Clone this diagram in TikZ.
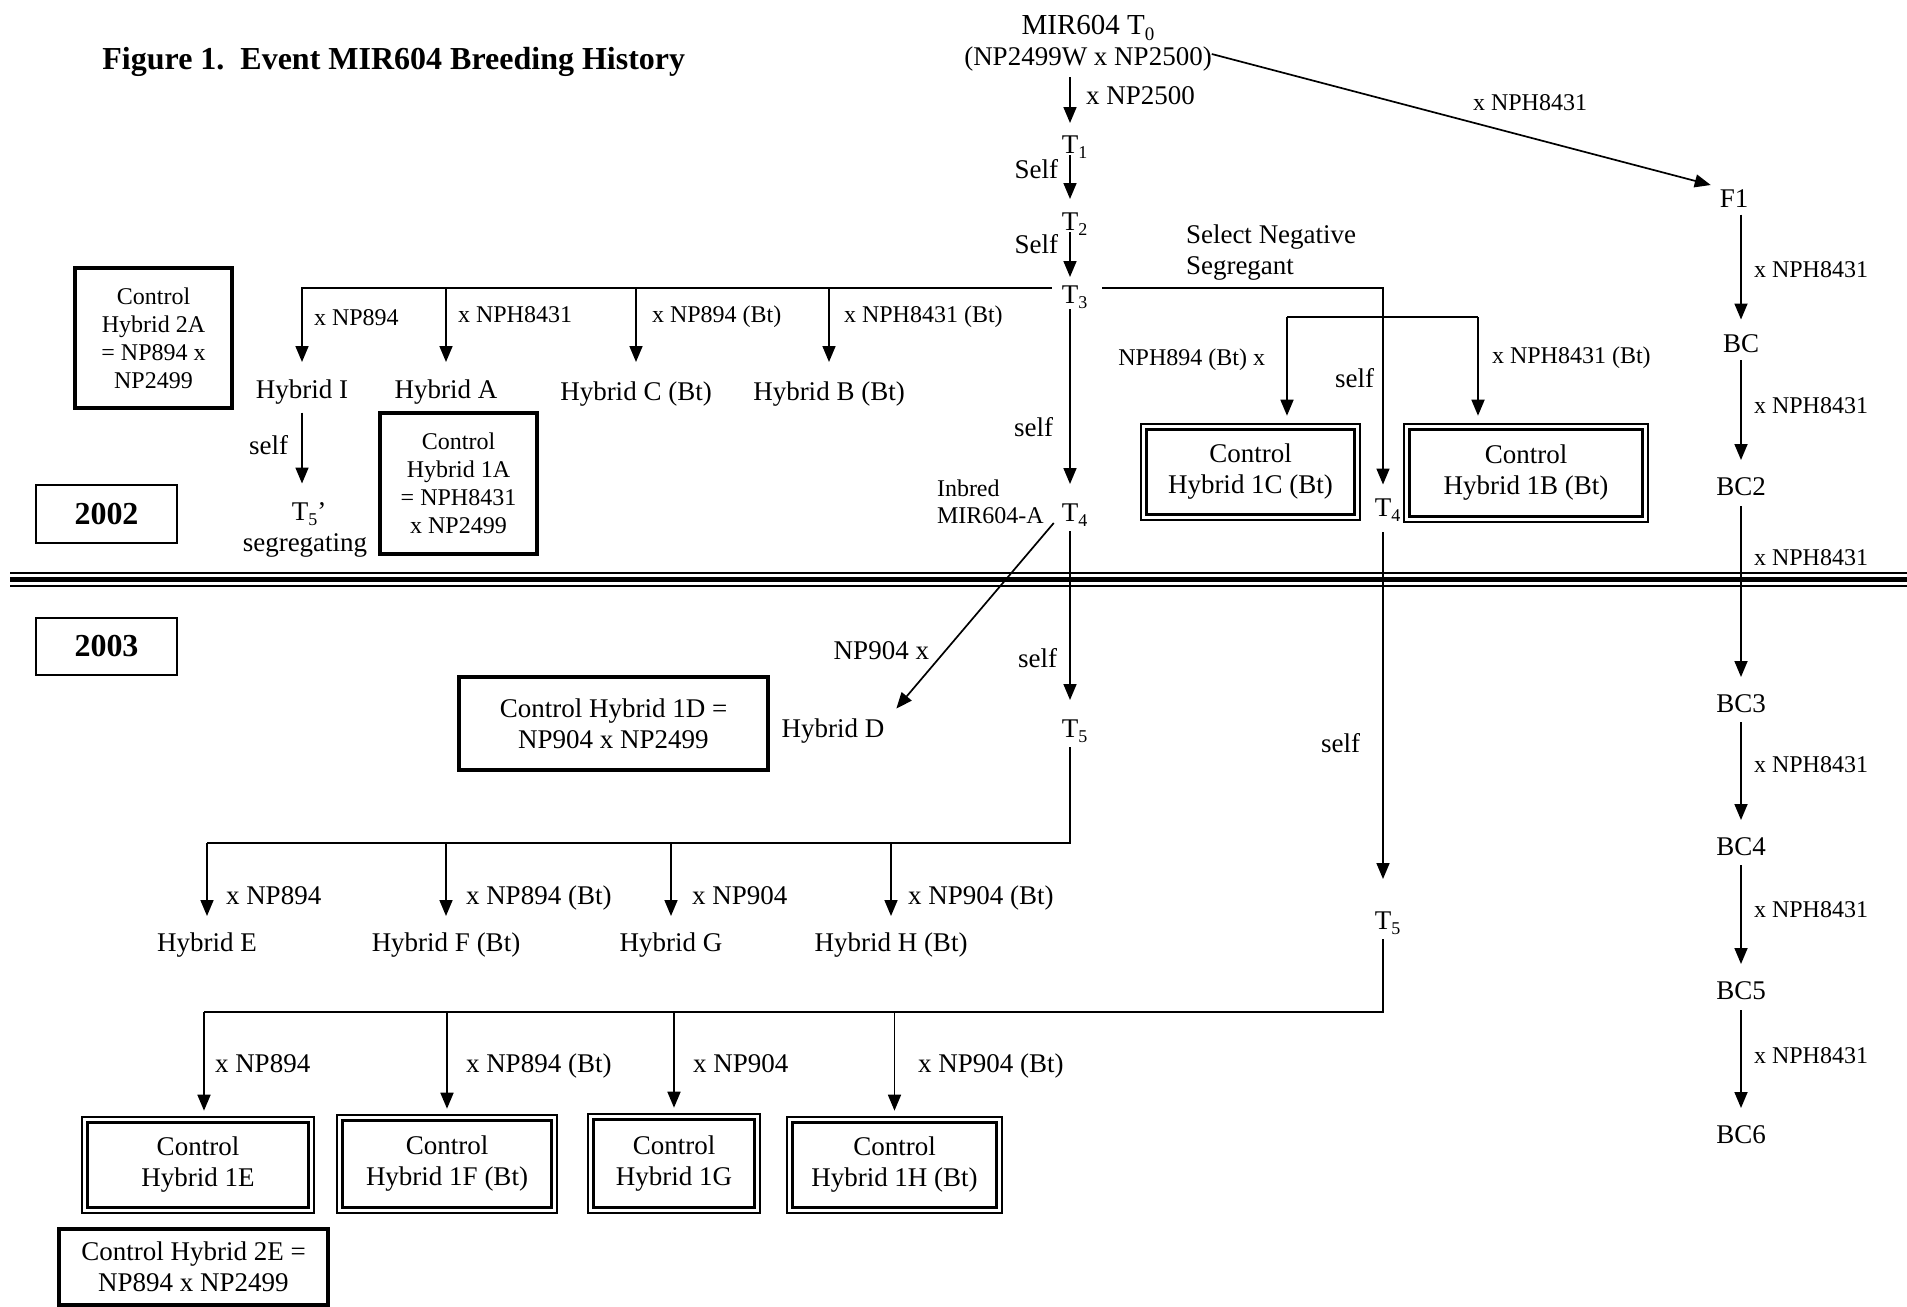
\documentclass[tikz,border=0pt]{standalone}
\usepackage{fontspec}
\setmainfont{Liberation Serif}
\usetikzlibrary{arrows.meta}
\newcommand\fbig{\fontsize{13.5}{15.5}\selectfont}
\newcommand\fsml{\fontsize{12}{14}\selectfont}
\newcommand\subx[1]{\raisebox{-0.45ex}{\fontsize{9}{9}\selectfont #1}}
\begin{document}
\begin{tikzpicture}[x=0.5pt,y=-0.5pt,
  nd/.style={inner sep=0pt, outer sep=0pt, text height=11pt, text depth=1pt, font=\fbig},
  bl/.style={inner sep=0pt, outer sep=0pt, text height=11pt, text depth=1pt, font=\fbig},
  sl/.style={inner sep=0pt, outer sep=0pt, text height=9.8pt, text depth=0.7pt, font=\fsml},
  ml/.style={inner sep=0pt, outer sep=0pt, font=\fbig},
  arr/.style={line width=0.85pt, -{Triangle[width=6.5pt,length=8pt]}},
  ln/.style={line width=0.85pt},
  cbox/.style={draw, line width=1.8pt, align=center, inner sep=2pt, font=\fsml},
  dbox/.style={draw, double, line width=1.1pt, double distance=1.6pt, align=center, inner sep=2pt, font=\fbig},
  ybox/.style={draw, line width=1pt, inner sep=2pt, font=\fontsize{16}{18}\selectfont\bfseries}]
\useasboundingbox (0,0) rectangle (1907,1307);

% separator between years
\draw[line width=1pt] (10,573.3) -- (1907,573.3);
\draw[line width=2.2pt] (10,579.5) -- (1907,579.5);
\draw[line width=1.2pt] (10,586.2) -- (1907,586.2);

% title
\node[anchor=west, inner sep=0pt, font=\fontsize{16}{18}\selectfont\bfseries] (title) at (102,62) {Figure 1.\ \ Event MIR604 Breeding History};

% main generation nodes
\node[ml, align=center] (t0) at (1088,43) {{\fontsize{14.5}{15.5}\selectfont MIR604 T\raisebox{-0.45ex}{\fontsize{9.5}{9.5}\selectfont 0}}\\(NP2499W x NP2500)};
\node[nd] (t1) at (1070,143) {T\rlap{\subx{1}}};
\node[nd] (t2) at (1070,220) {T\rlap{\subx{2}}};
\node[nd] (t3) at (1070,293) {T\rlap{\subx{3}}};
\node[nd] (t4) at (1070,511) {T\rlap{\subx{4}}};
\node[nd] (t5) at (1070,727) {T\rlap{\subx{5}}};
\node[nd] (t4r) at (1383,506) {T\rlap{\subx{4}}};
\node[nd] (t5r) at (1383,919) {T\rlap{\subx{5}}};

% hybrids 2002
\node[nd] (hybI) at (302,388) {Hybrid I};
\node[nd] (hybA) at (446,388) {Hybrid A};
\node[nd] (hybC) at (636,390) {Hybrid C (Bt)};
\node[nd] (hybB) at (829,390) {Hybrid B (Bt)};
\node[nd] (t5p) at (300,510) {T\rlap{\subx{5}’}};
\node[nd] (seg) at (305,541) {segregating};

% hybrids 2003
\node[nd] (hybD) at (833,727) {Hybrid D};
\node[nd] (hybE) at (207,941) {Hybrid E};
\node[nd] (hybF) at (446,941) {Hybrid F (Bt)};
\node[nd] (hybG) at (671,941) {Hybrid G};
\node[nd] (hybH) at (891,941) {Hybrid H (Bt)};

% right column
\node[nd] (f1) at (1734,197) {F1};
\node[nd] (bc) at (1741,342) {BC};
\node[nd] (bc2) at (1741,485) {BC2};
\node[nd] (bc3) at (1741,702) {BC3};
\node[nd] (bc4) at (1741,845) {BC4};
\node[nd] (bc5) at (1741,989) {BC5};
\node[nd] (bc6) at (1741,1133) {BC6};

% year boxes
\node[ybox, minimum width=70.5pt, minimum height=29pt] (y2002) at (106.5,514) {2002};
\node[ybox, minimum width=70.5pt, minimum height=28.5pt] (y2003) at (106.5,646.5) {2003};

% control boxes (single thick)
\node[cbox, minimum width=78.7pt, minimum height=70.2pt] (c2a) at (153.5,338) {Control\\Hybrid 2A\\= NP894 x\\NP2499};
\node[cbox, minimum width=78.7pt, minimum height=70.7pt] (c1a) at (458.5,483.5) {Control\\Hybrid 1A\\= NPH8431\\x NP2499};
\node[cbox, font=\fbig, minimum width=154.7pt, minimum height=46.7pt] (c1d) at (613.5,723.5) {Control Hybrid 1D =\\NP904 x NP2499};
\node[cbox, font=\fbig, minimum width=134.7pt, minimum height=38.2pt] (c2e) at (193.5,1267) {Control Hybrid 2E =\\NP894 x NP2499};

% control boxes (double)
\node[dbox, minimum width=106.7pt, minimum height=45.2pt] (c1c) at (1250.5,472) {Control\\Hybrid 1C (Bt)};
\node[dbox, minimum width=119.2pt, minimum height=46.2pt] (c1b) at (1526,473) {Control\\Hybrid 1B (Bt)};
\node[dbox, minimum width=113.2pt, minimum height=45.2pt] (c1e) at (198,1165) {Control\\Hybrid 1E};
\node[dbox, minimum width=107.2pt, minimum height=46.2pt] (c1f) at (447,1164) {Control\\Hybrid 1F (Bt)};
\node[dbox, minimum width=83.2pt, minimum height=46.7pt] (c1g) at (674,1163.5) {Control\\Hybrid 1G};
\node[dbox, minimum width=104.7pt, minimum height=45.2pt] (c1h) at (894.5,1165) {Control\\Hybrid 1H (Bt)};

% labels
\node[bl, anchor=west] (lx1) at (1086,94) {x NP2500};
\node[bl, anchor=east] (ls1) at (1058,168) {Self};
\node[bl, anchor=east] (ls2) at (1058,243) {Self};
\node[sl, anchor=west] (la1) at (314,316) {x NP894};
\node[sl, anchor=west] (la2) at (458,313) {x NPH8431};
\node[sl, anchor=west] (la3) at (652,313) {x NP894 (Bt)};
\node[sl, anchor=west] (la4) at (844,313) {x NPH8431 (Bt)};
\node[ml, anchor=west, align=left] (lsel) at (1186,253) {Select Negative\\Segregant};
\node[sl, anchor=east] (lnph) at (1265,356) {NPH894 (Bt) x};
\node[sl, anchor=west] (lnph2) at (1492,354) {x NPH8431 (Bt)};
\node[bl, anchor=east] (lself1) at (1374,377) {self};
\node[bl, anchor=east] (lself2) at (1053,426) {self};
\node[bl, anchor=east] (lself3) at (288,444) {self};
\node[ml, font=\fontsize{12}{13.5}\selectfont, anchor=west, align=left] (linb) at (937,502) {Inbred\\MIR604-A};
\node[bl, anchor=east] (lnp904) at (929,649) {NP904 x};
\node[bl, anchor=east] (lself4) at (1057,657) {self};
\node[bl, anchor=east] (lself5) at (1360,742) {self};
\node[bl, anchor=west] (lb1) at (226,894) {x NP894};
\node[bl, anchor=west] (lb2) at (466,894) {x NP894 (Bt)};
\node[bl, anchor=west] (lb3) at (692,894) {x NP904};
\node[bl, anchor=west] (lb4) at (908,894) {x NP904 (Bt)};
\node[bl, anchor=west] (lc1) at (215,1062) {x NP894};
\node[bl, anchor=west] (lc2) at (466,1062) {x NP894 (Bt)};
\node[bl, anchor=west] (lc3) at (693,1062) {x NP904};
\node[bl, anchor=west] (lc4) at (918,1062) {x NP904 (Bt)};
\node[sl] (lf) at (1530,101) {x NPH8431};
\node[sl, anchor=west] (lr1) at (1754,268) {x NPH8431};
\node[sl, anchor=west] (lr2) at (1754,404) {x NPH8431};
\node[sl, anchor=west] (lr3) at (1754,556) {x NPH8431};
\node[sl, anchor=west] (lr4) at (1754,763) {x NPH8431};
\node[sl, anchor=west] (lr5) at (1754,908) {x NPH8431};
\node[sl, anchor=west] (lr6) at (1754,1054) {x NPH8431};

% main spine
\draw[arr, shorten <=3pt, shorten >=4pt] (t0.south -| t1) -- (t1.north);
\draw[arr, shorten >=4.5pt] (t1.south) -- (t2.north);
\draw[arr, shorten >=2pt] (t2.south) -- (t3.north);
\draw[arr, shorten <=2pt, shorten >=7.5pt] (t3.south) -- (t4.north);
\draw[arr, shorten <=4pt, shorten >=7.5pt] (t4.south) -- (t5.north);

% T3 left branches
\coordinate (y3) at ([shift={(-5pt,2.5pt)}]t3.west);
\draw[arr, shorten >=7pt] (y3) -| (hybI.north);
\draw[arr, shorten >=7pt] (hybA.north |- y3) -- (hybA.north);
\draw[arr, shorten >=8pt] (hybC.north |- y3) -- (hybC.north);
\draw[arr, shorten >=8pt] (hybB.north |- y3) -- (hybB.north);

% T3 right branch
\draw[arr, shorten >=4.75pt] ([shift={(12pt,2.5pt)}]t3.east) -| (t4r.north);
\coordinate (bkl) at (1287,317);
\coordinate (bkr) at (1478,317);
\draw[ln] (bkl) -- (bkr);
\draw[arr, shorten >=5pt] (bkl) -- (bkl |- c1c.north);
\draw[arr, shorten >=5pt] (bkr) -- (bkr |- c1b.north);

% Hybrid I self
\draw[arr, shorten <=6.25pt, shorten >=7.25pt] (hybI.south) -- (hybI.south |- t5p.north);

% T4 to Hybrid D
\draw[arr] ([xshift=-4pt]t4.south west) -- ([shift={(6pt,3.25pt)}]hybD.north east);

% T5 bracket
\coordinate (k1) at (207,843);
\draw[ln, shorten <=4pt] (t5.south) |- (k1);
\draw[arr, shorten >=6.5pt] (k1) -- (hybE.north);
\draw[arr, shorten >=6.5pt] (hybF.north |- k1) -- (hybF.north);
\draw[arr, shorten >=6.5pt] (hybG.north |- k1) -- (hybG.north);
\draw[arr, shorten >=6.5pt] (hybH.north |- k1) -- (hybH.north);

% T4r to T5r
\draw[arr, shorten <=7pt, shorten >=14pt] (t4r.south) -- (t5r.north);

% T5r bracket
\coordinate (k2) at (204,1012);
\draw[ln, shorten <=4pt] (t5r.south) |- (k2);
\draw[arr, shorten >=4pt] (k2) -- (k2 |- c1e.north);
\draw[arr, shorten >=4pt] (c1f.north |- k2) -- (c1f.north);
\draw[arr, shorten >=4pt] (c1g.north |- k2) -- (c1g.north);
\draw[arr, shorten >=4pt] (c1h.north |- k2) -- (c1h.north);

% backcross column
\draw[arr] ([yshift=-5.5pt]t0.east) -- ([xshift=-4.5pt]f1.north west);
\draw[arr, shorten <=2.75pt, shorten >=5.25pt] (f1.south -| bc) -- (bc.north);
\draw[arr, shorten <=3pt, shorten >=6.5pt] (bc.south) -- (bc2.north);
\draw[arr, shorten <=4.5pt, shorten >=6.5pt] (bc2.south) -- (bc3.north);
\draw[arr, shorten <=4pt, shorten >=6.5pt] (bc3.south) -- (bc4.north);
\draw[arr, shorten <=4pt, shorten >=6.5pt] (bc4.south) -- (bc5.north);
\draw[arr, shorten <=4.5pt, shorten >=6.5pt] (bc5.south) -- (bc6.north);
\end{tikzpicture}
\end{document}
